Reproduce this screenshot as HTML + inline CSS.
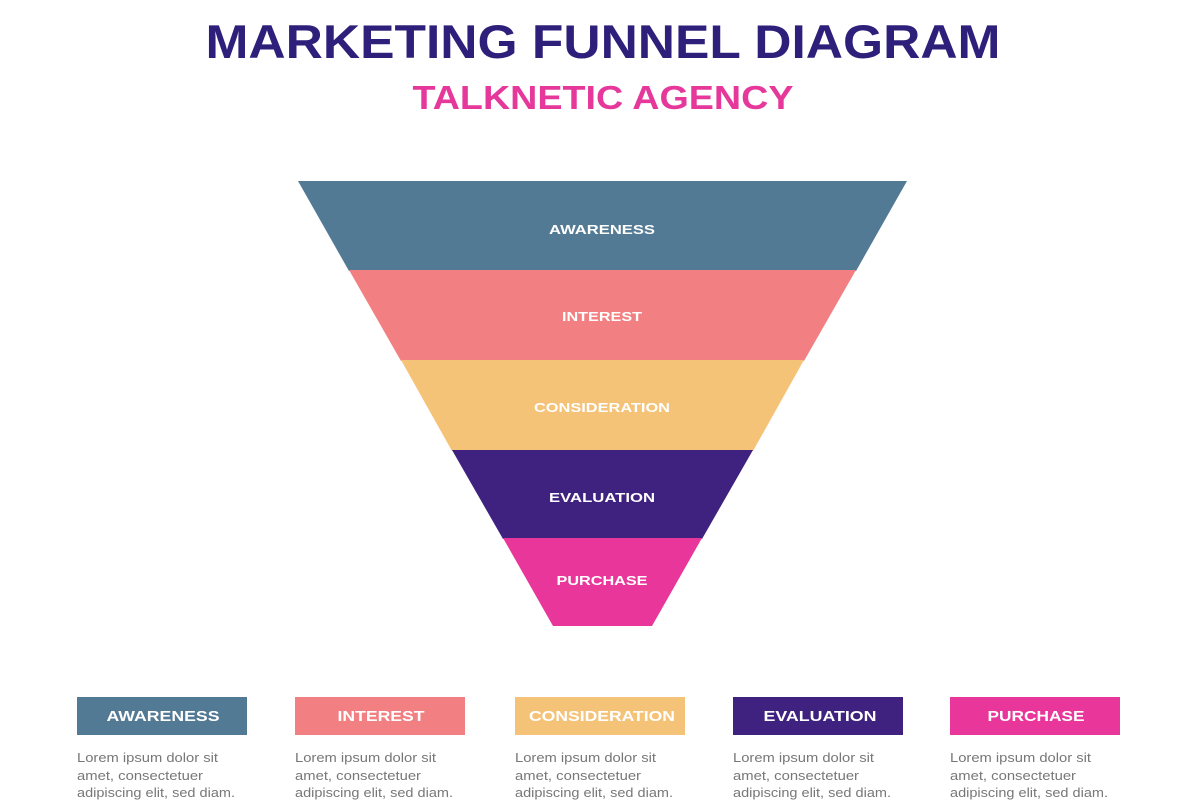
<!DOCTYPE html>
<html><head><meta charset="utf-8"><style>
body{margin:0;background:#fff;width:1200px;height:800px;overflow:hidden}
</style></head><body>
<svg width="1200" height="800" viewBox="0 0 1200 800" xmlns="http://www.w3.org/2000/svg" font-family="Liberation Sans, sans-serif">
<rect width="1200" height="800" fill="#fff"/>
<text x="603" y="58" text-anchor="middle" font-size="47" font-weight="bold" fill="#2e1f7a" textLength="795" lengthAdjust="spacingAndGlyphs">MARKETING FUNNEL DIAGRAM</text>
<text x="603" y="109" text-anchor="middle" font-size="33" font-weight="bold" fill="#e6379b" textLength="381" lengthAdjust="spacingAndGlyphs">TALKNETIC AGENCY</text>
<polygon points="298,181 907,181 856,271 349,271" fill="#537a94"/>
<polygon points="349,270 856,270 804,361 401,361" fill="#f27f82"/>
<polygon points="401,360 804,360 753,451 452,451" fill="#f5c378"/>
<polygon points="452,450 753,450 702,539 503,539" fill="#3f2180"/>
<polygon points="503,538 702,538 652,626 553,626" fill="#e8369a"/>
<g font-size="13" font-weight="bold" fill="#fff" text-anchor="middle" lengthAdjust="spacingAndGlyphs">
<text x="602" y="234" textLength="106" lengthAdjust="spacingAndGlyphs">AWARENESS</text>
<text x="602" y="321" textLength="80" lengthAdjust="spacingAndGlyphs">INTEREST</text>
<text x="602" y="412" textLength="136" lengthAdjust="spacingAndGlyphs">CONSIDERATION</text>
<text x="602" y="502" textLength="106" lengthAdjust="spacingAndGlyphs">EVALUATION</text>
<text x="602" y="585" textLength="91" lengthAdjust="spacingAndGlyphs">PURCHASE</text>
</g>
<g font-size="15" font-weight="bold" fill="#fff" text-anchor="middle">
<rect x="77" y="697" width="170" height="38" fill="#537a94"/><text x="163" y="721" textLength="113" lengthAdjust="spacingAndGlyphs">AWARENESS</text>
<rect x="295" y="697" width="170" height="38" fill="#f27f82"/><text x="381" y="721" textLength="87" lengthAdjust="spacingAndGlyphs">INTEREST</text>
<rect x="515" y="697" width="170" height="38" fill="#f5c378"/><text x="602" y="721" textLength="146" lengthAdjust="spacingAndGlyphs">CONSIDERATION</text>
<rect x="733" y="697" width="170" height="38" fill="#3f2180"/><text x="820" y="721" textLength="113" lengthAdjust="spacingAndGlyphs">EVALUATION</text>
<rect x="950" y="697" width="170" height="38" fill="#e8369a"/><text x="1036" y="721" textLength="97" lengthAdjust="spacingAndGlyphs">PURCHASE</text>
</g>
<g font-size="13" fill="#777">
<text x="77" y="762" textLength="141" lengthAdjust="spacingAndGlyphs">Lorem ipsum dolor sit</text><text x="77" y="780" textLength="126" lengthAdjust="spacingAndGlyphs">amet, consectetuer</text><text x="77" y="797" textLength="158" lengthAdjust="spacingAndGlyphs">adipiscing elit, sed diam.</text>
<text x="295" y="762" textLength="141" lengthAdjust="spacingAndGlyphs">Lorem ipsum dolor sit</text><text x="295" y="780" textLength="126" lengthAdjust="spacingAndGlyphs">amet, consectetuer</text><text x="295" y="797" textLength="158" lengthAdjust="spacingAndGlyphs">adipiscing elit, sed diam.</text>
<text x="515" y="762" textLength="141" lengthAdjust="spacingAndGlyphs">Lorem ipsum dolor sit</text><text x="515" y="780" textLength="126" lengthAdjust="spacingAndGlyphs">amet, consectetuer</text><text x="515" y="797" textLength="158" lengthAdjust="spacingAndGlyphs">adipiscing elit, sed diam.</text>
<text x="733" y="762" textLength="141" lengthAdjust="spacingAndGlyphs">Lorem ipsum dolor sit</text><text x="733" y="780" textLength="126" lengthAdjust="spacingAndGlyphs">amet, consectetuer</text><text x="733" y="797" textLength="158" lengthAdjust="spacingAndGlyphs">adipiscing elit, sed diam.</text>
<text x="950" y="762" textLength="141" lengthAdjust="spacingAndGlyphs">Lorem ipsum dolor sit</text><text x="950" y="780" textLength="126" lengthAdjust="spacingAndGlyphs">amet, consectetuer</text><text x="950" y="797" textLength="158" lengthAdjust="spacingAndGlyphs">adipiscing elit, sed diam.</text>
</g>
</svg>
</body></html>
